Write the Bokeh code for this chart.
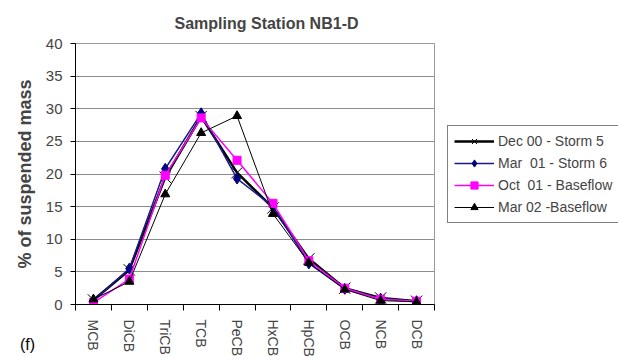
from bokeh.plotting import figure
from bokeh.models import (Range1d, FixedTicker, Legend, LegendItem, Div)
from bokeh.layouts import column
from bokeh.embed import file_html
from bokeh.resources import INLINE

categories = ["MCB", "DiCB", "TriCB", "TCB", "PeCB", "HxCB", "HpCB", "OCB", "NCB", "DCB"]
dec00_storm5 = [0.7, 5.3, 19.5, 28.8, 20.2, 14.8, 7.0, 2.5, 1.0, 0.5]
mar01_storm6 = [0.6, 5.5, 20.8, 29.3, 19.3, 15.0, 6.3, 2.4, 0.9, 0.5]
oct01_base = [0.3, 3.9, 19.8, 28.6, 22.1, 15.5, 6.7, 2.5, 0.8, 0.5]
mar02_base = [0.8, 3.5, 16.9, 26.3, 28.9, 13.9, 6.4, 2.3, 0.6, 0.4]
y_ticks = [0, 5, 10, 15, 20, 25, 30, 35, 40]

FONT = "Liberation Sans"
n = len(categories)
xpos = [i + 0.5 for i in range(n)]  # category centres on a 0..n axis

p = figure(x_range=Range1d(0, n), y_range=Range1d(0, 40),
           frame_width=359, frame_height=261,
           output_backend="svg", toolbar_location=None,
           min_border_left=75, min_border_top=43, min_border_right=0, min_border_bottom=0,
           title="Sampling Station NB1-D")
p.background_fill_color = "white"
p.border_fill_color = "white"
p.outline_line_color = "#999999"

p.title.align = "left"
p.title.text_font = FONT
p.title.text_font_size = "16px"
p.title.text_font_style = "bold"
p.title.offset = 99
p.title.standoff = 23

p.xgrid.visible = False
p.ygrid.ticker = FixedTicker(ticks=y_ticks)
p.ygrid.grid_line_color = "#8c8c8c"

ya = p.yaxis[0]
ya.ticker = FixedTicker(ticks=y_ticks)
ya.axis_label = "% of suspended mass"
ya.axis_label_text_font = FONT
ya.axis_label_text_font_size = "18px"
ya.axis_label_text_font_style = "bold"
ya.axis_label_standoff = 8
ya.major_label_text_font = FONT
ya.major_label_text_font_size = "15px"
ya.major_label_standoff = 8
ya.major_tick_out = 5
ya.major_tick_in = 0
ya.minor_tick_out = 0
ya.minor_tick_in = 0
ya.axis_line_color = "black"
ya.major_tick_line_color = "black"

xa = p.xaxis[0]
xa.ticker = FixedTicker(ticks=xpos, minor_ticks=list(range(n + 1)))
xa.major_label_overrides = {x: c for x, c in zip(xpos, categories)}
xa.major_label_orientation = "vertical"
xa.major_label_text_font = FONT
xa.major_label_text_font_size = "14px"
xa.major_label_standoff = 9
xa.major_tick_out = 0
xa.major_tick_in = 0
xa.minor_tick_out = 6
xa.minor_tick_in = 0
xa.minor_tick_line_color = "black"
xa.axis_line_color = "black"

r1l = p.line(xpos, dec00_storm5, line_color="black", line_width=2.5)
r1m = p.scatter(xpos, dec00_storm5, marker="x", size=16, line_color="black", line_width=1)
r2l = p.line(xpos, mar01_storm6, line_color="#1a1a8c", line_width=1.5)
r2m = p.scatter(xpos, mar01_storm6, marker="diamond", size=11, fill_color="#000080", line_color="#000080")
r3l = p.line(xpos, oct01_base, line_color="#ff00ff", line_width=1.5)
r3m = p.scatter(xpos, oct01_base, marker="square", size=8, fill_color="#ff00ff", line_color="#ff00ff")
r4l = p.line(xpos, mar02_base, line_color="black", line_width=1)
r4m = p.scatter(xpos, mar02_base, marker="triangle", size=9, fill_color="black", line_color="black")

legend = Legend(items=[
    LegendItem(label="Dec 00 - Storm 5", renderers=[r1l, r1m]),
    LegendItem(label="Mar  01 - Storm 6", renderers=[r2l, r2m]),
    LegendItem(label="Oct  01 - Baseflow", renderers=[r3l, r3m]),
    LegendItem(label="Mar 02 -Baseflow", renderers=[r4l, r4m]),
], location="left")
legend.label_text_font = FONT
legend.label_text_font_size = "14px"
legend.border_line_color = "black"
legend.border_line_width = 1
legend.glyph_width = 40
legend.glyph_height = 18
legend.label_height = 18
legend.label_standoff = 4
legend.spacing = 4
legend.padding = 6
legend.margin = 13
p.add_layout(legend, "right")

panel_tag = Div(text="(f)", styles={"position": "absolute", "left": "20px", "top": "337px",
                                    "margin": "0", "padding": "0", "line-height": "16px",
                                    "font-family": FONT, "font-size": "16px", "color": "black"})

layout = column(p, panel_tag)
open("out.html", "w").write(file_html(layout, INLINE))
